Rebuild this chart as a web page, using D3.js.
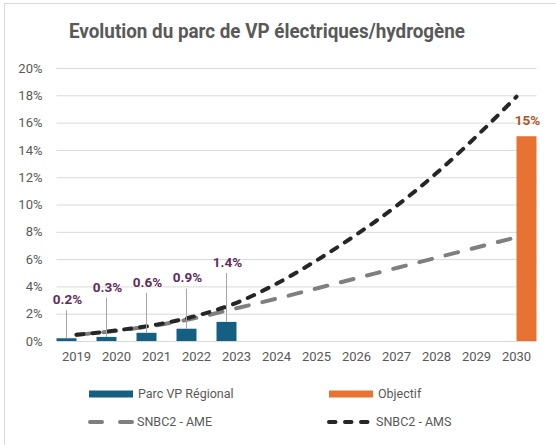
<!DOCTYPE html>
<html><head><meta charset="utf-8">
<script src="https://cdn.jsdelivr.net/npm/d3@7"></script>
<style>body{margin:0;background:#fff}svg{display:block}</style>
</head><body>
<svg id="c" width="556" height="445"></svg>
<script>
const years = ["2019","2020","2021","2022","2023","2024","2025","2026","2027","2028","2029","2030"];
const parcVP = [0.002, 0.003, 0.006, 0.009, 0.014, null, null, null, null, null, null, null];
const parcLabels = ["0.2%","0.3%","0.6%","0.9%","1.4%"];
const objectif = [null, null, null, null, null, null, null, null, null, null, null, 0.15];
const objectifLabel = "15%";
const snbcAME = [0.0045, 0.0075, 0.0115, 0.017, 0.024, 0.031, 0.0385, 0.046, 0.0535, 0.061, 0.0685, 0.076];
const snbcAMS = [0.0045, 0.0078, 0.012, 0.0185, 0.028, 0.042, 0.059, 0.078, 0.099, 0.123, 0.150, 0.179];
const yTicks = [0, 0.02, 0.04, 0.06, 0.08, 0.10, 0.12, 0.14, 0.16, 0.18, 0.20];
const title = "Evolution du parc de VP électriques/hydrogène";
const legendNames = ["Parc VP Régional", "Objectif", "SNBC2 - AME", "SNBC2 - AMS"];
// layout (label lift above bar tops, px)
const labelLift = [39, 50, 51, 51, 60];

const FONT = "Roboto, 'Open Sans', sans-serif";
const TXT = "#595959";
const C_PARC = "#156082", C_OBJ = "#E97132", C_AME = "#7F7F7F", C_AMS = "#262626";

const svg = d3.select("#c");
svg.append("rect").attr("x",4.5).attr("y",3.5).attr("width",700).attr("height",600)
  .attr("fill","#fff").attr("stroke","#d9d9d9").attr("stroke-width",1);

const x = d3.scaleBand().domain(years).range([56.5, 536.5]).paddingInner(0).paddingOuter(0);
const xs = d3.scaleBand().domain(["parc","obj"]).range([0, x.bandwidth()]);
const y = d3.scaleLinear().domain([0, 0.20]).range([341, 68]);

// title
svg.append("text").attr("x",267).attr("y",38).attr("text-anchor","middle")
  .attr("font-family",FONT).attr("font-weight","bold").attr("fill",TXT).attr("font-size",20)
  .attr("textLength",396).attr("lengthAdjust","spacingAndGlyphs").text(title);

// gridlines
const yAxis = d3.axisLeft(y).tickValues(yTicks).tickFormat(d3.format(".0%")).tickSize(-(536.5-56.5)).tickPadding(14);
const gy = svg.append("g").attr("transform","translate(56.5,0)").call(yAxis);
gy.select(".domain").remove();
gy.selectAll(".tick line").attr("stroke","#d9d9d9").attr("stroke-width",1);
gy.selectAll(".tick text").attr("font-family",FONT).attr("font-size",13).attr("fill",TXT);

const xAxis = d3.axisBottom(x).tickSize(0).tickPadding(11);
const gx = svg.append("g").attr("transform","translate(0,341)").call(xAxis);
gx.select(".domain").remove();
gx.selectAll(".tick text").attr("font-family",FONT).attr("font-size",13).attr("fill",TXT);

// bars
const parcData = years.map((yr,i)=>({yr, v:parcVP[i], i})).filter(d=>d.v!=null);
svg.append("g").selectAll("rect").data(parcData).join("rect")
  .attr("x", d=>x(d.yr)+xs("parc")).attr("width", xs.bandwidth())
  .attr("y", d=>y(d.v)).attr("height", d=>y(0)-y(d.v)).attr("fill", C_PARC);
const objData = years.map((yr,i)=>({yr, v:objectif[i]})).filter(d=>d.v!=null);
svg.append("g").selectAll("rect").data(objData).join("rect")
  .attr("x", d=>x(d.yr)+xs("obj")).attr("width", xs.bandwidth())
  .attr("y", d=>y(d.v)).attr("height", d=>y(0)-y(d.v)).attr("fill", C_OBJ);

// lines
const cx = yr => x(yr) + x.bandwidth()/2;
const line = d3.line().x((d,i)=>cx(years[i])).y(d=>y(d)).curve(d3.curveMonotoneX);
svg.append("path").attr("d", line(snbcAME)).attr("fill","none").attr("stroke",C_AME)
  .attr("stroke-width",4).attr("stroke-dasharray","13,14").attr("stroke-linecap","round");
svg.append("path").attr("d", line(snbcAMS)).attr("fill","none").attr("stroke",C_AMS)
  .attr("stroke-width",4).attr("stroke-dasharray","7,9").attr("stroke-linecap","round");

// data labels with leader lines
const lg = svg.append("g");
parcData.forEach((d,k)=>{
  const bx = x(d.yr)+xs("parc")+xs.bandwidth()/2;
  const top = y(d.v);
  const ly = top - labelLift[k];
  lg.append("line").attr("x1",bx).attr("x2",bx).attr("y1",top).attr("y2",ly+11)
    .attr("stroke","#a6a6a6").attr("stroke-width",1);
  lg.append("text").attr("x",bx+1).attr("y",ly).attr("dy","0.35em").attr("text-anchor","middle")
    .attr("font-family",FONT).attr("font-weight","bold").attr("font-size",13.5).attr("fill","#612C5E")
    .text(parcLabels[k]);
});
objData.forEach(d=>{
  lg.append("text").attr("x",x(d.yr)+xs("obj")+xs.bandwidth()/2+1).attr("y",y(d.v)-16).attr("dy","0.35em")
    .attr("text-anchor","middle").attr("font-family",FONT).attr("font-weight","bold").attr("font-size",13.5)
    .attr("fill","#B3541E").text(objectifLabel);
});

// legend
const leg = svg.append("g");
const items = [
  {n:legendNames[0], x:89, y:394, type:"bar", c:C_PARC},
  {n:legendNames[1], x:329, y:394, type:"bar", c:C_OBJ},
  {n:legendNames[2], x:88, y:422, type:"ame", c:C_AME},
  {n:legendNames[3], x:327, y:422, type:"ams", c:C_AMS},
];
items.forEach(it=>{
  if(it.type==="bar"){
    leg.append("rect").attr("x",it.x).attr("y",it.y-3.5).attr("width",44).attr("height",7).attr("fill",it.c);
  } else if(it.type==="ame"){
    leg.append("line").attr("x1",it.x+2).attr("x2",it.x+45).attr("y1",it.y).attr("y2",it.y)
      .attr("stroke",it.c).attr("stroke-width",4).attr("stroke-linecap","round").attr("stroke-dasharray","12,18");
  } else {
    leg.append("line").attr("x1",it.x+2).attr("x2",it.x+43).attr("y1",it.y).attr("y2",it.y)
      .attr("stroke",it.c).attr("stroke-width",4).attr("stroke-linecap","round").attr("stroke-dasharray","6.5,9.5");
  }
  leg.append("text").attr("x",it.x+49).attr("y",it.y).attr("dy","0.35em")
    .attr("font-family",FONT).attr("font-size",12.5).attr("fill",TXT).text(it.n);
});
</script>
</body></html>
